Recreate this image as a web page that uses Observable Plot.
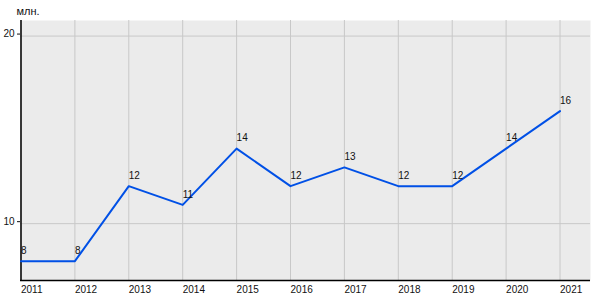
<!DOCTYPE html>
<html><head><meta charset="utf-8">
<script src="https://cdn.jsdelivr.net/npm/d3@7"></script>
<script src="https://cdn.jsdelivr.net/npm/@observablehq/plot@0.6"></script>
<style>body{margin:0;background:#fff;} svg{display:block;}</style>
</head><body><div id="chart"></div>
<script>
const years = [2011,2012,2013,2014,2015,2016,2017,2018,2019,2020,2021];
const values = [8,8,12,11,14,12,13,12,12,14,16];
const yTicks = [10,20];
const unitLabel = "млн.";
const data = years.map((y,i)=>({year:y, value:values[i]}));

const chart = Plot.plot({
  width: 600, height: 300,
  marginLeft: 20, marginRight: 10, marginTop: 20, marginBottom: 20,
  style: {fontFamily: "'Liberation Sans', Arial, sans-serif", fontSize: "10px", color: "#111"},
  x: {domain: [2011, 2021.575], range: [20.5, 590.5]},
  y: {domain: [6.97, 20.83], range: [280, 20]},
  marks: [
    Plot.frame({fill: "#ebebeb", stroke: null}),
    Plot.ruleX(years, {stroke: "#c8c8c8", strokeWidth: 1}),
    Plot.ruleY(yTicks, {stroke: "#c8c8c8", strokeWidth: 1}),
    Plot.axisY({ticks: yTicks, tickSize: 3, tickPadding: 3, label: null, dy: -2, tickFormat: d => String(d), fontSize: 10}),
    Plot.axisX({ticks: years, tickSize: 0, tickPadding: 5, textAnchor: "start", label: null, tickFormat: d => String(d), fontSize: 10}),
    Plot.ruleX([2011], {stroke: "#000", strokeWidth: 1.5}),
    Plot.ruleY([6.97], {stroke: "#000", strokeWidth: 1.5}),
    Plot.line(data, {x: "year", y: "value", stroke: "#0050e6", strokeWidth: 2}),
    Plot.text(data, {x: "year", y: "value", text: d => String(d.value), textAnchor: "start", dy: -10.5, fill: "#111", fontSize: 10}),
    Plot.text([unitLabel], {frameAnchor: "top-left", dx: -4, dy: -13, textAnchor: "start", fill: "#111", fontSize: 11})
  ]
});
document.getElementById("chart").appendChild(chart);
</script>
</body></html>
